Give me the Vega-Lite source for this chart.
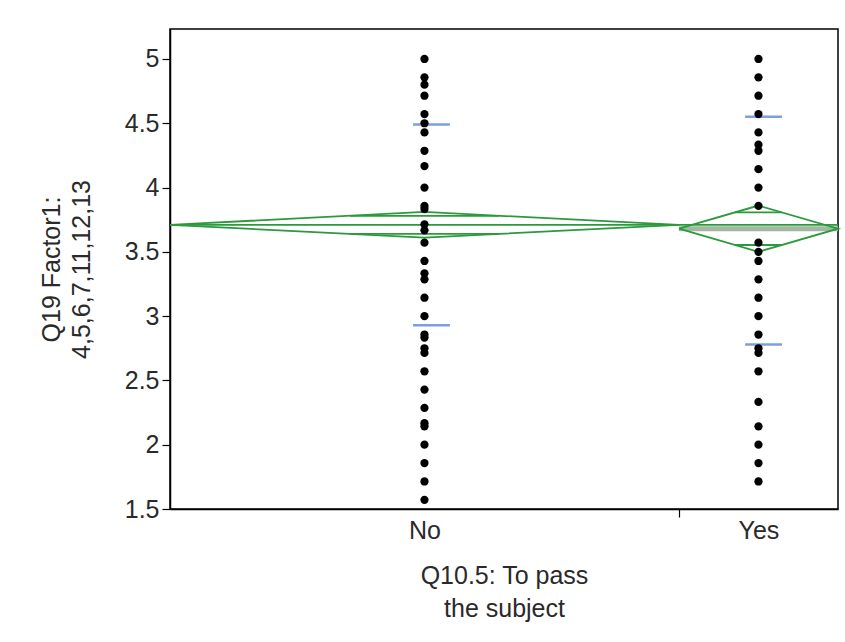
{
  "$schema": "https://vega.github.io/schema/vega-lite/v6.json",
  "autosize": {"type": "none"},
  "padding": {"left": 170, "top": 29, "right": 7, "bottom": 133},
  "width": 668,
  "height": 480,
  "background": "white",
  "config": {
    "view": {"stroke": "black", "strokeWidth": 1.5},
    "font": "Liberation Sans",
    "axis": {"labelFont": "Liberation Sans", "titleFont": "Liberation Sans", "labelFontSize": 25, "titleFontSize": 25, "labelColor": "#2a2a2a", "titleColor": "#2a2a2a", "titleFontWeight": "normal", "domainColor": "black", "domainWidth": 1.5, "tickColor": "black", "tickWidth": 1.2, "grid": false}
  },
  "datasets": {
    "points": [
      {"group": "No", "x": 40, "y": 5.0}, {"group": "No", "x": 40, "y": 4.857}, {"group": "No", "x": 40, "y": 4.8},
      {"group": "No", "x": 40, "y": 4.714}, {"group": "No", "x": 40, "y": 4.571}, {"group": "No", "x": 40, "y": 4.5},
      {"group": "No", "x": 40, "y": 4.429}, {"group": "No", "x": 40, "y": 4.286}, {"group": "No", "x": 40, "y": 4.167},
      {"group": "No", "x": 40, "y": 4.0}, {"group": "No", "x": 40, "y": 3.857}, {"group": "No", "x": 40, "y": 3.833},
      {"group": "No", "x": 40, "y": 3.714}, {"group": "No", "x": 40, "y": 3.667}, {"group": "No", "x": 40, "y": 3.571},
      {"group": "No", "x": 40, "y": 3.429}, {"group": "No", "x": 40, "y": 3.333}, {"group": "No", "x": 40, "y": 3.286},
      {"group": "No", "x": 40, "y": 3.143}, {"group": "No", "x": 40, "y": 3.0}, {"group": "No", "x": 40, "y": 2.857},
      {"group": "No", "x": 40, "y": 2.833}, {"group": "No", "x": 40, "y": 2.75}, {"group": "No", "x": 40, "y": 2.714},
      {"group": "No", "x": 40, "y": 2.571}, {"group": "No", "x": 40, "y": 2.429}, {"group": "No", "x": 40, "y": 2.286},
      {"group": "No", "x": 40, "y": 2.167}, {"group": "No", "x": 40, "y": 2.143}, {"group": "No", "x": 40, "y": 2.0},
      {"group": "No", "x": 40, "y": 1.857}, {"group": "No", "x": 40, "y": 1.714}, {"group": "No", "x": 40, "y": 1.571},
      {"group": "Yes", "x": 92.5, "y": 5.0}, {"group": "Yes", "x": 92.5, "y": 4.857}, {"group": "Yes", "x": 92.5, "y": 4.714},
      {"group": "Yes", "x": 92.5, "y": 4.571}, {"group": "Yes", "x": 92.5, "y": 4.429}, {"group": "Yes", "x": 92.5, "y": 4.333},
      {"group": "Yes", "x": 92.5, "y": 4.286}, {"group": "Yes", "x": 92.5, "y": 4.143}, {"group": "Yes", "x": 92.5, "y": 4.0},
      {"group": "Yes", "x": 92.5, "y": 3.857}, {"group": "Yes", "x": 92.5, "y": 3.571}, {"group": "Yes", "x": 92.5, "y": 3.5},
      {"group": "Yes", "x": 92.5, "y": 3.429}, {"group": "Yes", "x": 92.5, "y": 3.286}, {"group": "Yes", "x": 92.5, "y": 3.143},
      {"group": "Yes", "x": 92.5, "y": 3.0}, {"group": "Yes", "x": 92.5, "y": 2.857}, {"group": "Yes", "x": 92.5, "y": 2.75},
      {"group": "Yes", "x": 92.5, "y": 2.714}, {"group": "Yes", "x": 92.5, "y": 2.571}, {"group": "Yes", "x": 92.5, "y": 2.333},
      {"group": "Yes", "x": 92.5, "y": 2.143}, {"group": "Yes", "x": 92.5, "y": 2.0}, {"group": "Yes", "x": 92.5, "y": 1.857},
      {"group": "Yes", "x": 92.5, "y": 1.714}
    ],
    "diamonds": [
      {"shape": "No", "ord": 0, "x": 0, "y": 3.71}, {"shape": "No", "ord": 1, "x": 40, "y": 3.81},
      {"shape": "No", "ord": 2, "x": 80, "y": 3.71}, {"shape": "No", "ord": 3, "x": 40, "y": 3.61},
      {"shape": "No", "ord": 4, "x": 0, "y": 3.71},
      {"shape": "Yes", "ord": 0, "x": 80, "y": 3.68}, {"shape": "Yes", "ord": 1, "x": 92.5, "y": 3.86},
      {"shape": "Yes", "ord": 2, "x": 105, "y": 3.68}, {"shape": "Yes", "ord": 3, "x": 92.5, "y": 3.50},
      {"shape": "Yes", "ord": 4, "x": 80, "y": 3.68}
    ],
    "greenRules": [
      {"kind": "grand mean", "x": 0, "x2": 105, "y": 3.71},
      {"kind": "No overlap upper", "x": 28.3, "x2": 51.7, "y": 3.78},
      {"kind": "No overlap lower", "x": 28.3, "x2": 51.7, "y": 3.64},
      {"kind": "Yes overlap upper", "x": 88.8, "x2": 96.2, "y": 3.807},
      {"kind": "Yes overlap lower", "x": 88.8, "x2": 96.2, "y": 3.553}
    ],
    "meanBand": [
      {"kind": "Yes mean", "x": 80, "x2": 105, "y": 3.68}
    ],
    "sdRules": [
      {"group": "No", "x": 38.2, "x2": 44.0, "y": 4.49},
      {"group": "No", "x": 38.2, "x2": 44.0, "y": 2.93},
      {"group": "Yes", "x": 90.4, "x2": 96.2, "y": 4.55},
      {"group": "Yes", "x": 90.4, "x2": 96.2, "y": 2.78}
    ]
  },
  "layer": [
    {
      "data": {"name": "meanBand"},
      "mark": {"type": "rule", "color": "#a3b8a3", "strokeWidth": 5},
      "encoding": {
        "x": {"field": "x", "type": "quantitative", "scale": {"domain": [0, 105], "nice": false, "zero": false},
          "axis": {"values": [40, 80, 92.5], "labelExpr": "datum.value == 40 ? 'No' : (datum.value == 92.5 ? 'Yes' : '')",
            "tickSize": 8, "tickOpacity": {"condition": {"test": "datum.value == 80", "value": 1}, "value": 0},
            "labelPadding": 1, "title": ["Q10.5: To pass", "the subject"], "titlePadding": 20, "titleLineHeight": 33}},
        "x2": {"field": "x2"},
        "y": {"field": "y", "type": "quantitative", "scale": {"domain": [1.5, 5.233], "nice": false, "zero": false},
          "axis": {"values": [1.5, 1.75, 2, 2.25, 2.5, 2.75, 3, 3.25, 3.5, 3.75, 4, 4.25, 4.5, 4.75, 5],
            "format": "~g", "labelExpr": "datum.value % 0.5 === 0 ? datum.label : ''",
            "tickSize": {"condition": {"test": "datum.value % 0.5 === 0", "value": 8}, "value": 5},
            "labelPadding": 3, "title": ["Q19 Factor1:", "4,5,6,7,11,12,13"], "titlePadding": 30, "titleLineHeight": 30}}
      }
    },
    {
      "data": {"name": "diamonds"},
      "mark": {"type": "line", "color": "#2b9a3c", "strokeWidth": 1.8},
      "encoding": {
        "x": {"field": "x", "type": "quantitative"},
        "y": {"field": "y", "type": "quantitative"},
        "detail": {"field": "shape"},
        "order": {"field": "ord", "type": "quantitative"}
      }
    },
    {
      "data": {"name": "greenRules"},
      "mark": {"type": "rule", "color": "#2b9a3c", "strokeWidth": 1.8},
      "encoding": {
        "x": {"field": "x", "type": "quantitative"},
        "x2": {"field": "x2"},
        "y": {"field": "y", "type": "quantitative"}
      }
    },
    {
      "data": {"name": "sdRules"},
      "mark": {"type": "rule", "color": "#7c9fe4", "strokeWidth": 2.5},
      "encoding": {
        "x": {"field": "x", "type": "quantitative"},
        "x2": {"field": "x2"},
        "y": {"field": "y", "type": "quantitative"}
      }
    },
    {
      "data": {"name": "points"},
      "mark": {"type": "circle", "color": "black", "opacity": 1, "size": 68},
      "encoding": {
        "x": {"field": "x", "type": "quantitative"},
        "y": {"field": "y", "type": "quantitative"}
      }
    }
  ]
}
